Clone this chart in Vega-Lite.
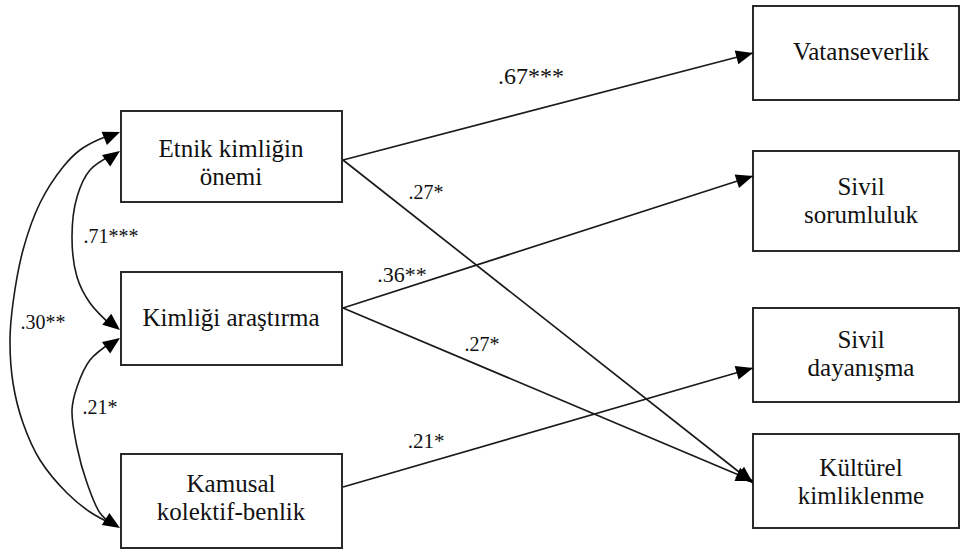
{
  "$schema": "https://vega.github.io/schema/vega-lite/v6.json",
  "width": 961,
  "height": 550,
  "autosize": {"type": "fit", "contains": "padding"},
  "padding": 0,
  "background": "white",
  "config": {"view": {"stroke": null}, "font": "Liberation Serif", "text": {"font": "Liberation Serif"}},
  "datasets": {
    "nodes": [
      {"name": "Etnik kimliğin\nönemi", "x1": 121, "x2": 342, "y1": 111, "y2": 202, "tx": 231, "ty": 149},
      {"name": "Kimliği araştırma", "x1": 121, "x2": 342, "y1": 272, "y2": 365, "tx": 231, "ty": 318},
      {"name": "Kamusal\nkolektif-benlik", "x1": 121, "x2": 342, "y1": 454, "y2": 548, "tx": 231, "ty": 484},
      {"name": "Vatanseverlik", "x1": 753, "x2": 959, "y1": 6, "y2": 100, "tx": 861, "ty": 52},
      {"name": "Sivil\nsorumluluk", "x1": 753, "x2": 959, "y1": 151, "y2": 251, "tx": 861, "ty": 187},
      {"name": "Sivil\ndayanışma", "x1": 753, "x2": 959, "y1": 308, "y2": 402, "tx": 861, "ty": 340},
      {"name": "Kültürel\nkimliklenme", "x1": 753, "x2": 959, "y1": 434, "y2": 528, "tx": 861, "ty": 468}
    ],
    "edges": [
      {"sx": 343, "sy": 160, "tx": 753, "ty": 53},
      {"sx": 343, "sy": 160, "tx": 753, "ty": 483},
      {"sx": 343, "sy": 308, "tx": 753, "ty": 176},
      {"sx": 343, "sy": 308, "tx": 753, "ty": 481},
      {"sx": 343, "sy": 487, "tx": 753, "ty": 368}
    ],
    "labels": [
      {"text": ".67***", "x": 531, "y": 77, "size": 24},
      {"text": ".27*", "x": 426, "y": 193, "size": 20},
      {"text": ".36**", "x": 402, "y": 275, "size": 22},
      {"text": ".27*", "x": 482, "y": 345, "size": 20},
      {"text": ".21*", "x": 426, "y": 442, "size": 21},
      {"text": ".71***", "x": 111, "y": 237, "size": 20},
      {"text": ".30**", "x": 43, "y": 323, "size": 20},
      {"text": ".21*", "x": 100, "y": 408, "size": 20}
    ],
    "arcs": [
      {"arc": "outer", "ord": 1, "x": 112, "y": 135},
      {"arc": "outer", "ord": 2, "x": 100, "y": 139},
      {"arc": "outer", "ord": 3, "x": 80, "y": 150},
      {"arc": "outer", "ord": 4, "x": 63, "y": 167},
      {"arc": "outer", "ord": 5, "x": 40, "y": 203},
      {"arc": "outer", "ord": 6, "x": 23, "y": 250},
      {"arc": "outer", "ord": 7, "x": 13, "y": 303},
      {"arc": "outer", "ord": 8, "x": 10, "y": 340},
      {"arc": "outer", "ord": 9, "x": 13, "y": 383},
      {"arc": "outer", "ord": 10, "x": 23, "y": 423},
      {"arc": "outer", "ord": 11, "x": 40, "y": 460},
      {"arc": "outer", "ord": 12, "x": 67, "y": 493},
      {"arc": "outer", "ord": 13, "x": 90, "y": 512},
      {"arc": "outer", "ord": 14, "x": 112, "y": 524},
      {"arc": "upper", "ord": 1, "x": 112, "y": 155},
      {"arc": "upper", "ord": 2, "x": 90, "y": 170},
      {"arc": "upper", "ord": 3, "x": 77, "y": 197},
      {"arc": "upper", "ord": 4, "x": 72, "y": 237},
      {"arc": "upper", "ord": 5, "x": 77, "y": 277},
      {"arc": "upper", "ord": 6, "x": 90, "y": 303},
      {"arc": "upper", "ord": 7, "x": 112, "y": 326},
      {"arc": "lower", "ord": 1, "x": 112, "y": 342},
      {"arc": "lower", "ord": 2, "x": 90, "y": 360},
      {"arc": "lower", "ord": 3, "x": 77, "y": 387},
      {"arc": "lower", "ord": 4, "x": 72, "y": 410},
      {"arc": "lower", "ord": 5, "x": 77, "y": 447},
      {"arc": "lower", "ord": 6, "x": 87, "y": 483},
      {"arc": "lower", "ord": 7, "x": 100, "y": 513},
      {"arc": "lower", "ord": 8, "x": 112, "y": 524}
    ],
    "archeads": [
      {"x": 120, "y": 132, "angle": -22},
      {"x": 120, "y": 151, "angle": -35},
      {"x": 120, "y": 330, "angle": 39},
      {"x": 120, "y": 338, "angle": -35},
      {"x": 120, "y": 528, "angle": 32}
    ]
  },
  "layer": [
    {
      "data": {"name": "nodes"},
      "mark": {"type": "rect", "fill": "white", "stroke": "#2a2a2a", "strokeWidth": 2},
      "encoding": {
        "x": {"field": "x1", "type": "quantitative", "scale": {"domain": [0, 961], "nice": false, "zero": false}, "axis": null},
        "x2": {"field": "x2"},
        "y": {"field": "y1", "type": "quantitative", "scale": {"domain": [0, 550], "nice": false, "zero": false, "reverse": true}, "axis": null},
        "y2": {"field": "y2"}
      }
    },
    {
      "data": {"name": "nodes"},
      "mark": {"type": "text", "font": "Liberation Serif, Times New Roman, serif", "fontSize": 25, "lineBreak": "\n", "lineHeight": 28, "align": "center", "baseline": "middle", "color": "#111"},
      "encoding": {
        "x": {"field": "tx", "type": "quantitative"},
        "y": {"field": "ty", "type": "quantitative"},
        "text": {"field": "name"}
      }
    },
    {
      "data": {"name": "edges"},
      "mark": {"type": "rule", "stroke": "#1a1a1a", "strokeWidth": 1.7},
      "encoding": {
        "x": {"field": "sx", "type": "quantitative"},
        "y": {"field": "sy", "type": "quantitative"},
        "x2": {"field": "tx"},
        "y2": {"field": "ty"}
      }
    },
    {
      "data": {"name": "edges"},
      "transform": [{"calculate": "atan2(datum.ty - datum.sy, datum.tx - datum.sx) * 180 / PI", "as": "angle"}],
      "mark": {"type": "point", "shape": "M0,0L-1,-0.42L-1,0.42Z", "filled": true, "color": "#000", "opacity": 1, "size": 1156},
      "encoding": {
        "x": {"field": "tx", "type": "quantitative"},
        "y": {"field": "ty", "type": "quantitative"},
        "angle": {"field": "angle", "type": "quantitative", "scale": null}
      }
    },
    {
      "data": {"name": "arcs"},
      "mark": {"type": "line", "interpolate": "catmull-rom", "stroke": "#1a1a1a", "strokeWidth": 1.6},
      "encoding": {
        "x": {"field": "x", "type": "quantitative"},
        "y": {"field": "y", "type": "quantitative"},
        "detail": {"field": "arc"},
        "order": {"field": "ord", "type": "quantitative"}
      }
    },
    {
      "data": {"name": "archeads"},
      "mark": {"type": "point", "shape": "M0,0L-1,-0.42L-1,0.42Z", "filled": true, "color": "#000", "opacity": 1, "size": 1156},
      "encoding": {
        "x": {"field": "x", "type": "quantitative"},
        "y": {"field": "y", "type": "quantitative"},
        "angle": {"field": "angle", "type": "quantitative", "scale": null}
      }
    },
    {
      "data": {"name": "labels"},
      "mark": {"type": "text", "font": "Liberation Serif, Times New Roman, serif", "align": "center", "baseline": "middle", "color": "#111"},
      "encoding": {
        "x": {"field": "x", "type": "quantitative"},
        "y": {"field": "y", "type": "quantitative"},
        "text": {"field": "text"},
        "size": {"field": "size", "type": "quantitative", "scale": null}
      }
    }
  ]
}
